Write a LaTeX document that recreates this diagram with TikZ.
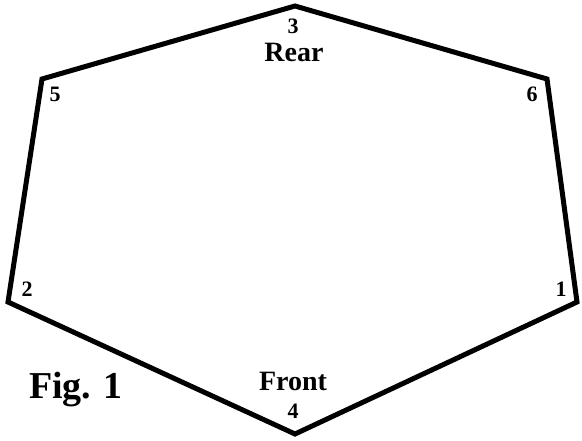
\documentclass[tikz,border=0pt]{standalone}
\usepackage{fontspec}
\setmainfont{Liberation Serif}
\begin{document}
\begin{tikzpicture}[x=1pt,y=-1pt,
  edge/.style={line width=5pt,line join=miter,black},
  num/.style={font=\fontsize{22}{22}\selectfont\bfseries,inner sep=0pt,anchor=base},
  side/.style={font=\fontsize{28}{28}\selectfont\bfseries,inner sep=0pt,anchor=base},
  fig/.style={font=\fontsize{38}{38}\selectfont\bfseries,inner sep=0pt,anchor=base}]
\useasboundingbox (0,0) rectangle (582,441);
\coordinate (v3) at (295,6);
\coordinate (v6) at (547,79);
\coordinate (v1) at (577,302);
\coordinate (v4) at (295,434);
\coordinate (v2) at (8,302);
\coordinate (v5) at (42,79);
\draw[edge] (v3) -- (v6) -- (v1) -- (v4) -- (v2) -- (v5) -- cycle;
\node[num] (n3) at (293,34) {3};
\node[side] (rear) at (294,62) {Rear};
\node[num] (n5) at (55,102) {5};
\node[num] (n6) at (532,102) {6};
\node[num] (n2) at (27,297) {2};
\node[num] (n1) at (561,297) {1};
\node[side] (front) at (293,391) {Front};
\node[num] (n4) at (293,418) {4};
\node[fig] (fig) at (76,399) {Fig. 1};
\end{tikzpicture}
\end{document}
